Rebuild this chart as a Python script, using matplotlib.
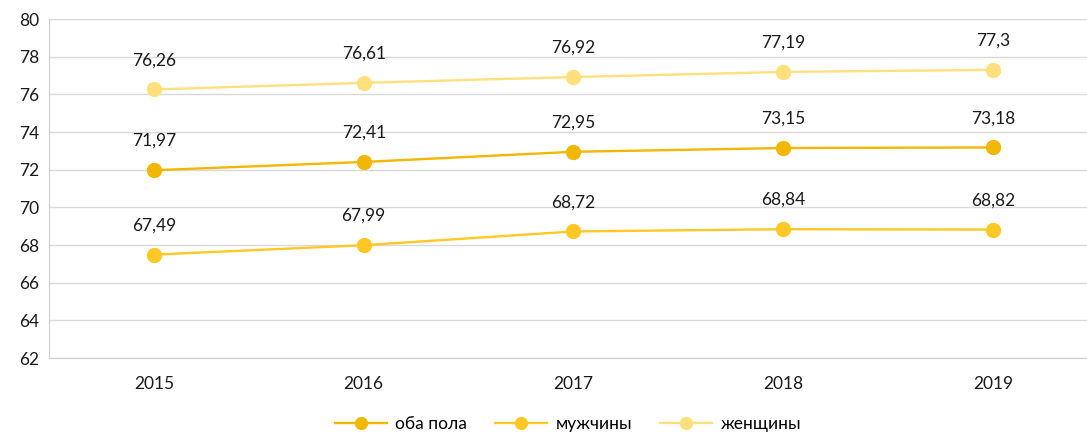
import matplotlib.pyplot as plt

years = ["2015", "2016", "2017", "2018", "2019"]
both = [71.97, 72.41, 72.95, 73.15, 73.18]
men = [67.49, 67.99, 68.72, 68.84, 68.82]
women = [76.26, 76.61, 76.92, 77.19, 77.3]

series = [
    ("оба пола", both, "#F2B700"),
    ("мужчины", men, "#FFC825"),
    ("женщины", women, "#FFE07D"),
]

plt.rcParams["font.family"] = ["Lato", "DejaVu Sans"]

fig = plt.figure(figsize=(10.87, 4.38), dpi=100)
ax = fig.add_axes([0.0451, 0.1826, 0.9549, 0.774])

x = list(range(len(years)))
for name, vals, color in series:
    ax.plot(x, vals, color=color, lw=1.7, marker="o", ms=10, label=name, zorder=3)
    for xi, v in zip(x, vals):
        txt = f"{v:g}".replace(".", ",")
        ax.annotate(txt, (xi, v), xytext=(0, 21), textcoords="offset points",
                    ha="center", va="center", fontsize=12.5, color="#1a1a1a")

ax.set_ylim(62, 80)
ax.set_yticks(range(62, 81, 2))
ax.set_xlim(-0.5, 4.448)
ax.set_xticks(x)
ax.set_xticklabels(years)
ax.grid(axis="y", color="#D9D9D9", lw=1)
ax.set_axisbelow(True)
for s in ["top", "right"]:
    ax.spines[s].set_visible(False)
ax.spines["left"].set_color("#D0D0D0")
ax.spines["bottom"].set_color("#D0D0D0")
ax.tick_params(length=0, labelsize=12.5, colors="#1a1a1a")
ax.tick_params(axis="x", pad=13)
ax.tick_params(axis="y", pad=7)

ax.legend(loc="lower center", bbox_to_anchor=(0.5, -0.265), ncol=3,
          frameon=False, fontsize=12.5, handlelength=3.0, columnspacing=1.6,
          handletextpad=0.5, markerscale=0.85)

fig.savefig("out.png", dpi=100)
